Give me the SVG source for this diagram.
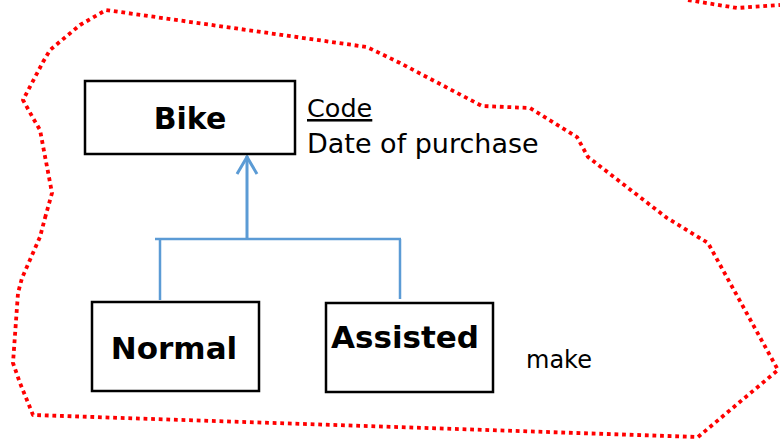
<svg xmlns="http://www.w3.org/2000/svg" width="780" height="439" viewBox="0 0 780 439">
  <style>
    .boundary { fill: none; stroke: #ff0000; stroke-width: 3.8; stroke-dasharray: 3.8 3.8; stroke-linejoin: round; }
    .box { fill: #ffffff; stroke: #000000; stroke-width: 2.5; }
    .title { font-family: "Comic Sans MS", "DejaVu Sans", sans-serif; font-weight: bold; fill: #000000; text-anchor: middle; }
    .attr { font-family: "Comic Sans MS", "DejaVu Sans", sans-serif; fill: #000000; }
    .link { fill: none; stroke: #5b9bd5; stroke-width: 2.5; }
  </style>

  <!-- dotted system boundary -->
  <g id="boundary">
    <path class="boundary" d="M45,218 L52,193 L40,130 L33,118 L23,100 L43,62 L50,50 L80,25 L106,10 L367,47 L400,63 L482,106 L530,108 L577,137 L588,157 L667,218 L708,243 L778,370 L698,437 L33,415 L20,383 L13,363 L18,293 L22,278 L40,237 Z"/>
    <path class="boundary" d="M688,0 L737,8 L780,5"/>
  </g>

  <!-- inheritance connectors -->
  <g id="connectors">
    <line class="link" x1="247" y1="156" x2="247" y2="239" style="stroke-width:3"/>
    <polyline class="link" points="237,174 247,157 257,174" style="stroke-width:3"/>
    <line class="link" x1="155" y1="239" x2="401" y2="239"/>
    <line class="link" x1="160" y1="239" x2="160" y2="300"/>
    <line class="link" x1="400" y1="239" x2="400" y2="299"/>
  </g>

  <g id="bike">
    <rect class="box" x="85" y="81" width="210" height="73"/>
    <text class="title" x="190" y="129" font-size="30">Bike</text>
  </g>

  <g id="bike-attributes">
    <text class="attr" x="307" y="117" font-size="25.5" text-decoration="underline">Code</text>
    <text class="attr" x="307" y="153" font-size="27">Date of purchase</text>
  </g>

  <g id="normal">
    <rect class="box" x="92" y="302" width="167" height="89"/>
    <text class="title" x="174" y="359" font-size="31">Normal</text>
  </g>

  <g id="assisted">
    <rect class="box" x="326" y="303" width="167" height="89"/>
    <text class="title" x="405" y="348" font-size="31">Assisted</text>
  </g>

  <g id="assisted-attributes">
    <text class="attr" x="526" y="368" font-size="24">make</text>
  </g>
</svg>
